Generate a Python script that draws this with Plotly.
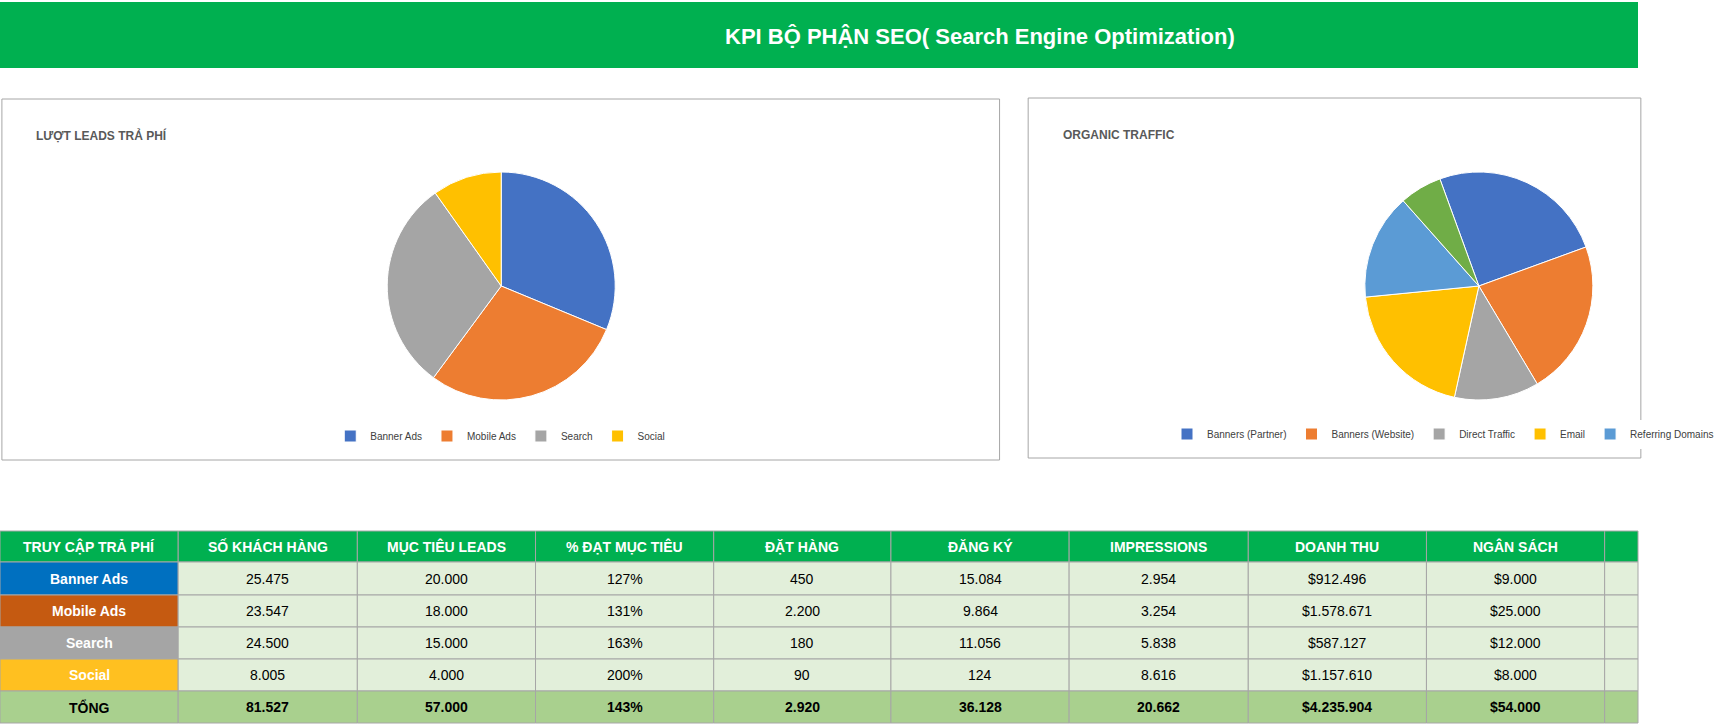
import plotly.graph_objects as go

W, H = 1719, 728
channels = ["Banner Ads", "Mobile Ads", "Search", "Social"]
customers = [25475, 23547, 24500, 8005]
pie1_colors = ["#4472C4", "#ED7D31", "#A5A5A5", "#FFC000"]
org_labels = ["Banners (Partner)", "Banners (Website)", "Direct Traffic", "Email", "Referring Domains", "Social"]
org_values = [25, 22, 12, 20, 15, 6]
org_colors = ["#4472C4", "#ED7D31", "#A5A5A5", "#FFC000", "#5B9BD5", "#70AD47"]

headers = ["TRUY CẬP TRẢ PHÍ", "SỐ KHÁCH HÀNG", "MỤC TIÊU LEADS", "% ĐẠT MỤC TIÊU", "ĐẶT HÀNG",
           "ĐĂNG KÝ", "IMPRESSIONS", "DOANH THU", "NGÂN SÁCH", ""]
rows = [
    ["Banner Ads", "25.475", "20.000", "127%", "450", "15.084", "2.954", "$912.496", "$9.000", ""],
    ["Mobile Ads", "23.547", "18.000", "131%", "2.200", "9.864", "3.254", "$1.578.671", "$25.000", ""],
    ["Search", "24.500", "15.000", "163%", "180", "11.056", "5.838", "$587.127", "$12.000", ""],
    ["Social", "8.005", "4.000", "200%", "90", "124", "8.616", "$1.157.610", "$8.000", ""],
    ["TỔNG", "81.527", "57.000", "143%", "2.920", "36.128", "20.662", "$4.235.904", "$54.000", ""],
]
row_label_colors = ["#0070C0", "#C55A11", "#A5A5A5", "#FFC020"]
col_x = [0, 187, 375, 562, 749, 935, 1122, 1310, 1497, 1684, 1719]
row_y = [531, 562, 595, 627, 659, 691, 723]

px = lambda x: x / W
py = lambda y: 1 - y / H

fig = go.Figure()
fig.add_trace(go.Pie(labels=channels, values=customers, sort=False, direction="clockwise", rotation=0,
                     marker=dict(colors=pie1_colors, line=dict(color="white", width=1)),
                     textinfo="none", hoverinfo="label+value+percent",
                     domain=dict(x=[px(388), px(664)], y=[py(400), py(172)]), legend="legend"))
fig.add_trace(go.Pie(labels=org_labels, values=org_values, sort=False, direction="clockwise", rotation=-20,
                     marker=dict(colors=org_colors, line=dict(color="white", width=1)),
                     textinfo="none", hoverinfo="label+value+percent",
                     domain=dict(x=[px(1415), px(1689)], y=[py(400), py(172)]), legend="legend2"))

shapes = []
ann = []
shapes.append(dict(type="rect", xref="paper", yref="paper", x0=0, x1=1, y0=py(68), y1=py(2),
                   fillcolor="#00B050", line=dict(width=0), layer="below"))
ann.append(dict(text="<b>KPI BỘ PHẬN SEO( Search Engine Optimization)</b>", x=px(1028), y=py(36),
                xref="paper", yref="paper", xanchor="center", yanchor="middle", showarrow=False,
                font=dict(size=22, color="white", family="Arial")))
for x0, x1, y0, y1, t in [(2, 1049, 99, 460, "LƯỢT LEADS TRẢ PHÍ"), (1079, 1722, 98, 458, "ORGANIC TRAFFIC")]:
    shapes.append(dict(type="rect", xref="paper", yref="paper", x0=px(x0), x1=px(x1), y0=py(y1), y1=py(y0),
                       fillcolor="white", line=dict(color="#A6A6A6", width=1), layer="below"))
    ann.append(dict(text=f"<b>{t}</b>", x=px(x0 + 34), y=py(135), xref="paper", yref="paper",
                    xanchor="left", yanchor="middle", showarrow=False,
                    font=dict(size=12, color="#595959", family="Arial")))
for r in range(6):
    for c in range(10):
        if r == 0:
            fill, txt, col, bold = "#00B050", headers[c], "white", True
        else:
            txt = rows[r - 1][c]
            if r == 5:
                fill, col, bold = "#A9D08E", "black", True
            elif c == 0:
                fill, col, bold = row_label_colors[r - 1], "white", True
            else:
                fill, col, bold = "#E2EFDA", "black", False
        shapes.append(dict(type="rect", xref="paper", yref="paper", x0=px(col_x[c]), x1=px(col_x[c + 1]),
                           y0=py(row_y[r + 1]), y1=py(row_y[r]), fillcolor=fill,
                           line=dict(color="#A6A6A6", width=1), layer="below"))
        if txt:
            ann.append(dict(text=f"<b>{txt}</b>" if bold else txt,
                            x=px((col_x[c] + col_x[c + 1]) / 2), y=py((row_y[r] + row_y[r + 1]) / 2),
                            xref="paper", yref="paper", xanchor="center", yanchor="middle", showarrow=False,
                            font=dict(size=14, color=col, family="Arial")))

fig.update_layout(
    width=W, height=H, autosize=False, margin=dict(l=0, r=0, t=0, b=0),
    paper_bgcolor="white", plot_bgcolor="white", shapes=shapes, annotations=ann,
    legend=dict(orientation="h", x=px(525), y=py(436), xanchor="center", yanchor="middle",
                font=dict(size=10, color="#404040", family="Arial")),
    legend2=dict(orientation="h", x=px(1225), y=py(434), xanchor="left", yanchor="middle",
                 font=dict(size=10, color="#404040", family="Arial")),
)
html = fig.to_html(full_html=True, config={"responsive": False, "displayModeBar": False})
html = html.replace("<head>", "<head><style>html,body{margin:0;padding:0;overflow:hidden;}</style>", 1)
with open("out.html", "w", encoding="utf-8") as f:
    f.write(html)
